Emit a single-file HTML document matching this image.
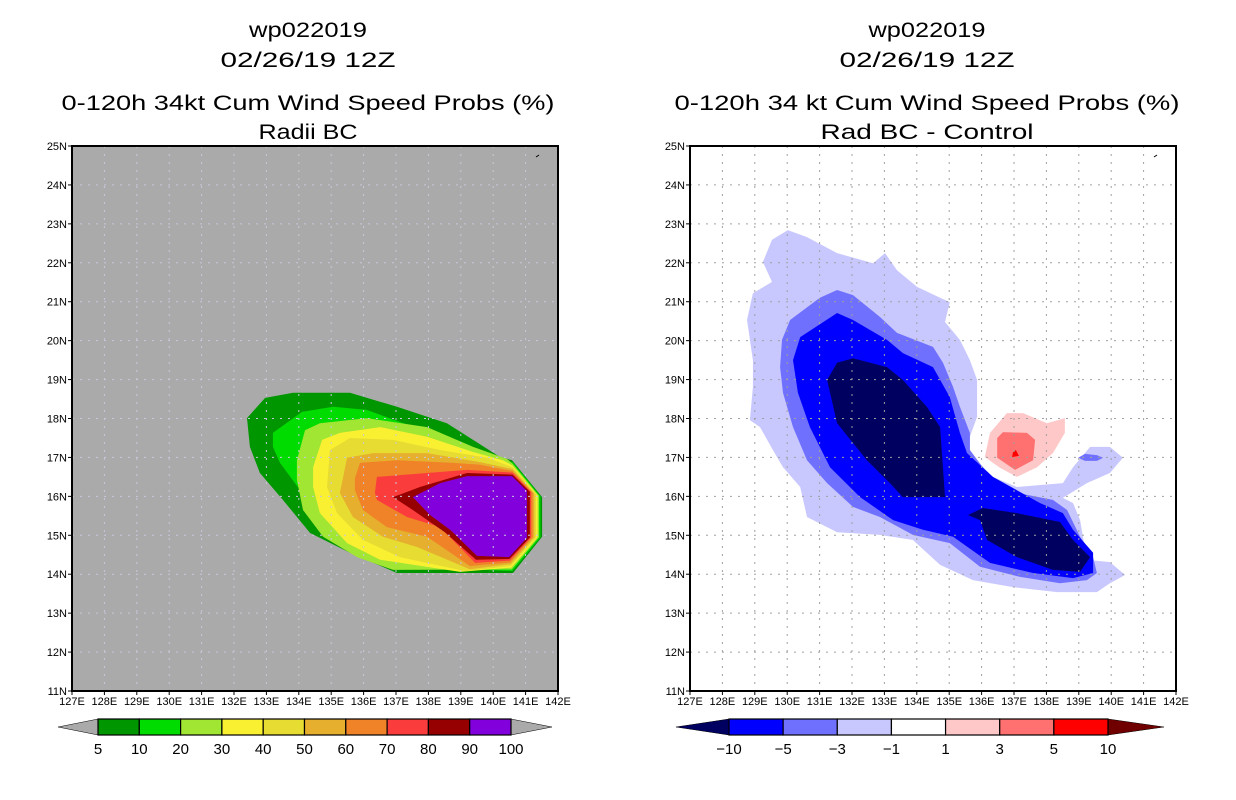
<!DOCTYPE html>
<html><head><meta charset="utf-8"><style>
html,body{margin:0;padding:0;background:#fff;}
svg{display:block;font-family:"Liberation Sans",sans-serif;}
</style></head><body>
<svg id="fig" width="1236" height="800" viewBox="0 0 1236 800" xmlns="http://www.w3.org/2000/svg">
<rect width="1236" height="800" fill="#fff"/>
<g font-size="21" text-anchor="middle" fill="#000" lengthAdjust="spacingAndGlyphs">
<text x="308" y="37" textLength="118" lengthAdjust="spacingAndGlyphs">wp022019</text><text x="308" y="67" textLength="175" lengthAdjust="spacingAndGlyphs">02/26/19 12Z</text>
<text x="308" y="110" textLength="493" lengthAdjust="spacingAndGlyphs">0-120h 34kt Cum Wind Speed Probs (%)</text><text x="308" y="139" textLength="99" lengthAdjust="spacingAndGlyphs">Radii BC</text></g>
<g font-size="21" text-anchor="middle" fill="#000">
<text x="927" y="37" textLength="117" lengthAdjust="spacingAndGlyphs">wp022019</text><text x="927" y="67" textLength="175" lengthAdjust="spacingAndGlyphs">02/26/19 12Z</text>
<text x="927" y="110" textLength="505" lengthAdjust="spacingAndGlyphs">0-120h 34 kt Cum Wind Speed Probs (%)</text><text x="927" y="139" textLength="213" lengthAdjust="spacingAndGlyphs">Rad BC - Control</text></g>
<g id="left"></g>
<g id="right"></g>
<g id="cbl"></g>
<g id="cbr"></g>
</svg>
<script>
const lonTicks=[127,128,129,130,131,132,133,134,135,136,137,138,139,140,141,142];
const latTicks=[11,12,13,14,15,16,17,18,19,20,21,22,23,24,25];
const probLevels=[5,10,20,30,40,50,60,70,80,90,100];
const probColors=["#009600","#00dc00","#a0e632","#faf032","#e6dc32","#e6af2d","#f08228","#fa3c3c","#960000","#8200dc"];
const diffLevels=[-10,-5,-3,-1,1,3,5,10];
const diffColors=["#000060","#0000ff","#7070ff","#c8c8ff","#ffffff","#ffc8c8","#ff7070","#ff0000","#700000"];
const p5=[[132.40,18.01],[132.96,18.53],[133.82,18.66],[135.58,18.66],[137.03,18.30],[138.57,17.88],[139.38,17.45],[140.21,17.01],[140.58,16.93],[141.51,15.98],[141.51,14.96],[140.61,14.03],[137.03,14.03],[135.58,14.55],[134.35,15.06],[133.51,15.91],[132.80,16.60],[132.49,17.27]];
const p10=[[133.20,17.63],[134.10,18.17],[135.06,18.30],[136.10,18.22],[137.12,17.91],[138.14,17.63],[139.07,17.32],[139.81,17.01],[140.6,16.88],[141.46,16.00],[141.46,14.95],[140.59,14.08],[138.36,14.16],[137.12,14.44],[135.80,14.80],[134.75,15.39],[134.04,16.16],[133.42,16.86],[133.20,17.27]];
const p20=[[133.94,16.42],[133.94,16.93],[134.19,17.70],[134.65,17.88],[136.10,18.01],[137.96,17.78],[139.38,17.27],[140.43,16.96],[140.6,16.84],[141.41,16.02],[141.41,14.95],[140.57,14.12],[136.91,14.11],[135.80,14.44],[134.75,14.96],[134.13,15.65]];
const p30=[[134.44,16.24],[134.44,16.75],[134.72,17.45],[135.27,17.63],[136.51,17.78],[137.96,17.53],[139.38,17.14],[140.30,16.93],[140.6,16.79],[141.37,16.03],[141.37,14.95],[140.56,14.17],[138.98,14.06],[136.51,14.37],[135.49,14.80],[134.65,15.57]];
const p40=[[134.87,16.24],[134.96,17.19],[135.58,17.50],[136.91,17.45],[138.36,17.19],[139.81,16.99],[140.6,16.75],[141.32,16.05],[141.32,14.95],[140.55,14.21],[139.13,14.08],[137.12,14.44],[135.98,14.88],[135.18,15.57]];
const p50=[[135.27,16.09],[135.49,16.99],[136.29,17.11],[137.96,17.11],[139.59,16.88],[140.6,16.70],[141.27,16.07],[141.27,14.95],[140.54,14.26],[139.28,14.13],[137.65,14.70],[136.60,14.96],[135.67,15.47]];
const p60=[[135.73,16.16],[135.73,16.47],[135.89,16.86],[137.03,16.93],[138.76,16.86],[139.59,16.81],[140.6,16.65],[141.22,16.09],[141.22,14.95],[140.52,14.30],[139.28,14.21],[137.96,14.96],[136.72,15.21],[135.98,15.65]];
const p70=[[136.35,16.09],[136.41,16.50],[137.96,16.60],[139.19,16.68],[140.6,16.61],[141.17,16.11],[141.17,14.95],[140.51,14.35],[139.44,14.29],[138.36,15.21],[137.34,15.47],[136.41,15.91]];
const p80=[[136.91,15.98],[137.74,16.24],[139.19,16.60],[140.6,16.56],[141.13,16.12],[141.13,14.94],[140.50,14.39],[139.47,14.37],[138.51,15.08],[137.52,15.65]];
const p90=[[137.52,15.98],[138.36,16.34],[139.19,16.52],[140.58,16.52],[141.04,16.14],[141.04,14.93],[140.49,14.44],[139.50,14.47],[138.67,15.14],[138.05,15.52]];
const leftPolys=[p5,p10,p20,p30,p40,p50,p60,p70,p80,p90];
const dm1=[[128.76,20.53],[128.94,21.22],[129.53,21.51],[129.25,22.02],[129.53,22.59],[130.02,22.84],[130.61,22.66],[131.54,22.25],[132.65,21.99],[133.02,22.25],[133.39,21.81],[134.01,21.38],[134.72,21.10],[135.02,20.99],[134.87,20.48],[135.33,20.02],[135.64,19.50],[135.86,18.99],[135.86,18.04],[135.64,17.53],[135.64,17.11],[136.35,16.50],[137.09,16.24],[138.51,16.34],[138.82,16.75],[139.35,17.27],[139.96,17.27],[140.36,16.99],[139.96,16.60],[139.25,16.34],[138.51,15.96],[138.82,15.83],[139.04,15.39],[139.25,14.37],[139.96,14.31],[140.43,13.98],[139.96,13.77],[139.56,13.54],[138.33,13.54],[136.97,13.67],[135.73,13.85],[134.72,14.24],[133.88,14.88],[132.86,15.01],[131.54,15.08],[130.61,15.47],[130.40,16.24],[129.87,16.75],[129.56,17.19],[129.16,17.78],[128.85,17.96],[128.94,18.81],[128.94,19.50]];
const dm3=[[129.84,20.02],[130.09,20.53],[131.01,21.10],[131.54,21.30],[132.03,21.17],[132.86,20.61],[133.39,20.20],[134.50,19.84],[134.81,19.43],[135.12,18.81],[135.33,18.30],[135.64,17.63],[135.64,17.19],[136.17,16.60],[137.09,16.09],[138.20,15.91],[138.64,15.65],[139.04,14.96],[139.44,14.44],[139.56,14.03],[139.25,13.85],[138.42,13.77],[137.19,13.93],[135.95,14.19],[135.02,14.80],[133.88,15.01],[132.86,15.47],[132.03,15.73],[131.23,16.34],[130.61,16.93],[130.18,17.78],[129.87,18.66],[129.78,19.32]];
const dm3b=[[138.98,16.99],[139.19,17.09],[139.56,17.06],[139.75,16.99],[139.56,16.91],[139.19,16.91]];
const dm5=[[130.18,19.50],[130.40,20.09],[131.54,20.71],[132.03,20.53],[133.08,20.02],[133.57,19.68],[134.50,19.32],[135.02,18.55],[135.33,17.63],[135.55,17.11],[136.35,16.50],[137.80,15.83],[138.51,15.57],[138.82,15.14],[139.44,14.55],[139.44,14.03],[138.82,13.90],[137.59,14.03],[136.26,14.29],[135.12,14.96],[134.19,15.14],[133.27,15.39],[132.25,15.98],[131.32,16.75],[130.70,17.78],[130.33,18.66]];
const dm10a=[[131.54,19.43],[132.03,19.55],[133.08,19.32],[133.57,18.99],[134.31,18.30],[134.72,17.78],[134.87,15.98],[133.57,15.98],[133.17,16.34],[132.46,16.93],[131.54,17.88],[131.23,18.99]];
const dm10b=[[135.58,15.52],[136.04,15.70],[137.09,15.57],[138.42,15.34],[138.82,14.88],[139.35,14.44],[139.04,14.06],[138.20,14.11],[137.09,14.44],[136.17,14.88],[135.95,15.39]];
const dp1=[[136.10,17.01],[136.26,17.63],[136.78,18.14],[137.28,18.14],[138.02,17.88],[138.57,18.01],[138.57,17.63],[138.20,17.11],[137.71,16.75],[137.09,16.50],[136.57,16.73]];
const dp3=[[136.48,17.50],[136.66,17.65],[137.40,17.63],[137.65,17.45],[137.59,16.93],[137.03,16.68],[136.48,16.99]];
const dp5=[[136.97,17.14],[137.06,17.19],[137.15,17.04],[136.94,17.01]];
const rightPolys=[[dm1,"#c8c8ff"],[dm3,"#7070ff"],[dm3b,"#7070ff"],[dm5,"#0000ff"],[dm10a,"#000060"],[dm10b,"#000060"],[dp1,"#ffc8c8"],[dp3,"#ff7070"],[dp5,"#ff0000"]];

const NS="http://www.w3.org/2000/svg";
function mk(tag,attrs,parent){const e=document.createElementNS(NS,tag);for(const k in attrs)e.setAttribute(k,attrs[k]);parent.appendChild(e);return e;}
const Y0=146,Y1=691;
function yS(lat){return Y1-(lat-11)/14*(Y1-Y0);}
function drawMap(g,x0,x1,bg,gridCol,polys,prefix){
  const xS=lon=>x0+(lon-127)/15*(x1-x0);
  const r=mk('rect',{x:x0,y:Y0,width:x1-x0,height:Y1-Y0,fill:bg},g);
  
  
  polys.forEach((p,i)=>{
    const pl=mk('polygon',{points:p[0].map(q=>xS(q[0]).toFixed(1)+','+yS(q[1]).toFixed(1)).join(' '),fill:p[1]},g);
    
    
  });
  lonTicks.forEach(l=>{
    if(l>127&&l<142){const ln=mk('line',{x1:xS(l),x2:xS(l),y1:Y0,y2:Y1,stroke:gridCol,'stroke-width':1,'stroke-dasharray':'2,6'},g);
    
    }
    const t=mk('text',{x:xS(l),y:Y1+14,'font-size':11,'text-anchor':'middle'},g);t.textContent=l+'E';
    
    
    mk('line',{x1:xS(l),x2:xS(l),y1:Y1,y2:Y1+4,stroke:'#000'},g);
  });
  latTicks.forEach(l=>{
    if(l>11&&l<25){const ln=mk('line',{x1:x0,x2:x1,y1:yS(l),y2:yS(l),stroke:gridCol,'stroke-width':1,'stroke-dasharray':'2,6'},g);
    
    }
    const t=mk('text',{x:x0-5,y:yS(l)+4,'font-size':11,'text-anchor':'end'},g);t.textContent=l+'N';
    
    
    mk('line',{x1:x0-4,x2:x0,y1:yS(l),y2:yS(l),stroke:'#000'},g);
  });
  const b=mk('rect',{x:x0,y:Y0,width:x1-x0,height:Y1-Y0,fill:'none',stroke:'#000','stroke-width':2},g);
  
  
  mk('line',{x1:x1-22,y1:Y0+11,x2:x1-19,y2:Y0+9,stroke:'#000','stroke-width':1},g);
}
drawMap(document.getElementById('left'),72,558,'#aaaaaa','#c8c8dc',leftPolys.map((p,i)=>[p,probColors[i]]),'left');
drawMap(document.getElementById('right'),690,1176,'#ffffff','#a0a0a0',rightPolys,'right');

function drawBar(g,tipL,bx0,bx1,tipR,colors,labels,leftTip,rightTip,inner,prefix){
  const y0=719,y1=735,ym=727,n=inner.length,w=(bx1-bx0)/n;
  const a=mk('polygon',{points:`${tipL},${ym} ${bx0},${y0} ${bx0},${y1}`,fill:leftTip,stroke:'#000','stroke-width':0.5},g);
  
  
  const c=mk('polygon',{points:`${tipR},${ym} ${bx1},${y0} ${bx1},${y1}`,fill:rightTip,stroke:'#000','stroke-width':0.5},g);
  
  
  inner.forEach((col,i)=>{
    const r=mk('rect',{x:bx0+i*w,y:y0,width:w,height:y1-y0,fill:col,stroke:'#000','stroke-width':1.2},g);
    
    
  });
  labels.forEach((l,i)=>{
    const t=mk('text',{x:bx0+i*w,y:754,'font-size':15,'text-anchor':'middle'},g);t.textContent=String(l).replace('-','\u2212');
    
    
  });
}
drawBar(document.getElementById('cbl'),58,98,511,552,probColors,probLevels,'#aaaaaa','#aaaaaa',probColors,'left-colorbar');
drawBar(document.getElementById('cbr'),676,729,1108,1164,diffColors,diffLevels,diffColors[0],diffColors[8],diffColors.slice(1,8),'right-colorbar');
</script>
</body></html>
